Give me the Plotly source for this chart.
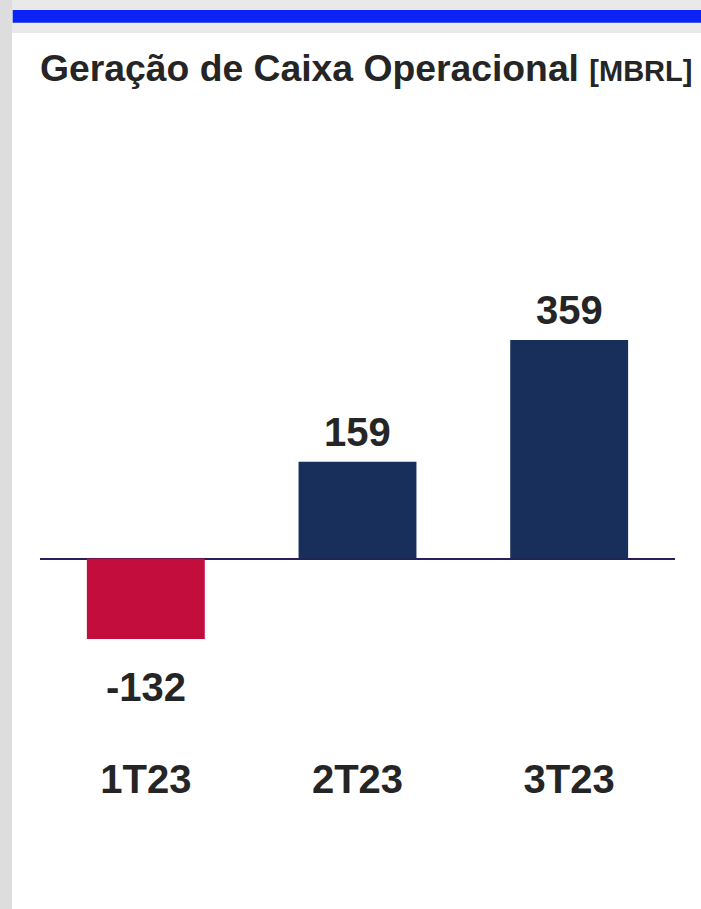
import plotly.graph_objects as go

# ---- data ----
categories = ["1T23", "2T23", "3T23"]
values = [-132, 159, 359]
bar_colors = ["#c30e3d", "#182f5b", "#182f5b"]
title_main = "Geração de Caixa Operacional"
title_unit = "[MBRL]"

W, H = 701, 909
FONT = "Liberation Sans, Arial, Helvetica, sans-serif"
TXT = "#252525"

# plot area in pixels
PX_L, PX_R = 40, 675
PY_T, PY_B = 120, 752
scale = 0.609  # px per unit
zero_y = 558.6
y_top = (zero_y - PY_T) / scale
y_bot = -(PY_B - zero_y) / scale


def px(x):
    return x / W


def py(y):
    return 1 - y / H


fig = go.Figure()
fig.add_trace(go.Bar(
    x=categories,
    y=values,
    marker=dict(color=bar_colors, line=dict(width=0)),
    width=0.557,
    hoverinfo="skip",
))

annotations = []
for c, v in zip(categories, values):
    annotations.append(dict(
        x=c, y=v, xref="x", yref="y",
        text=f"<b>{v}</b>", showarrow=False,
        font=dict(family=FONT, size=40, color=TXT),
        xanchor="center", yanchor="middle",
        yshift=30 if v >= 0 else -48,
    ))

shapes = [
    # top gray band
    dict(type="rect", xref="paper", yref="paper", x0=0, x1=1, y0=py(33), y1=1,
         fillcolor="#e9e9e9", line=dict(width=0), layer="below"),
    # left gray strip
    dict(type="rect", xref="paper", yref="paper", x0=0, x1=px(12), y0=0, y1=1,
         fillcolor="#dddddd", line=dict(width=0), layer="below"),
    # blue band
    dict(type="rect", xref="paper", yref="paper", x0=px(12.7), x1=1, y0=py(22.7), y1=py(10),
         fillcolor="#0b22f4", line=dict(width=0), layer="below"),
]

fig.update_layout(
    width=W, height=H,
    template="none",
    margin=dict(l=0, r=0, t=0, b=0),
    paper_bgcolor="white",
    plot_bgcolor="rgba(0,0,0,0)",
    showlegend=False,
    title=dict(
        text=f"<b>{title_main} <span style='font-size:29px'>{title_unit}</span></b>",
        x=px(40), xanchor="left", xref="container",
        y=py(68), yanchor="middle", yref="container",
        font=dict(family=FONT, size=37.3, color=TXT),
    ),
    xaxis=dict(
        domain=[px(PX_L), px(PX_R)],
        range=[-0.5, 2.5],
        showgrid=False, zeroline=False, showline=False, ticks="",
        tickfont=dict(family=FONT, size=40, color=TXT, weight="bold"),
        automargin=False,
        fixedrange=True,
    ),
    yaxis=dict(
        domain=[py(PY_B), py(PY_T)],
        range=[y_bot, y_top],
        showgrid=False, showticklabels=False, showline=False, ticks="",
        zeroline=True, zerolinecolor="#2a1f5c", zerolinewidth=2,
        automargin=False,
        fixedrange=True,
    ),
    shapes=shapes,
    annotations=annotations,
)

fig.write_html(
    "out.html",
    config={"displayModeBar": False},
    post_script="document.body.style.margin='0';document.body.style.overflow='hidden';",
)
